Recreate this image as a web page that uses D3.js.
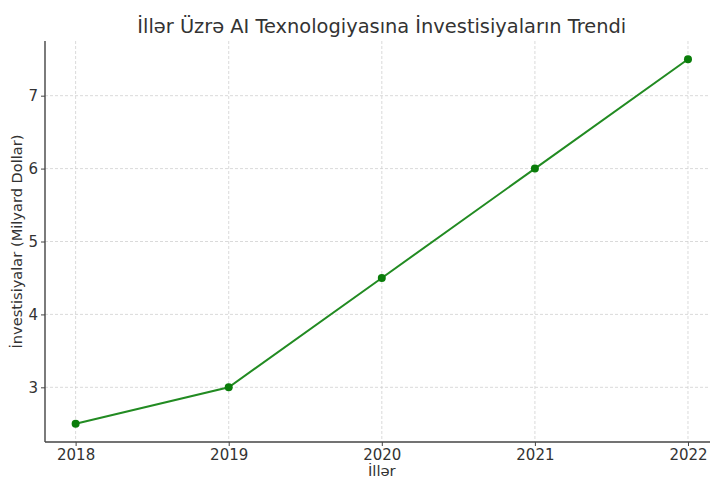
<!DOCTYPE html>
<html>
<head>
<meta charset="utf-8">
<script src="https://cdn.jsdelivr.net/npm/d3@7"></script>
<style>
  body { margin: 0; background: #fff; }
  svg { display: block; font-family: "DejaVu Sans", sans-serif; }
</style>
</head>
<body>
<div id="chart"></div>
<script>
// data
const years = [2018, 2019, 2020, 2021, 2022];
const investments = [2.5, 3.0, 4.5, 6.0, 7.5];
const yTicks = [3, 4, 5, 6, 7];

const width = 710;
const height = 477;
// plot area (right edge runs past the visible window, as in the reference)
const margin = { top: 41, left: 45, bottom: 442, right: 718.6 };

const svg = d3.select("#chart")
  .append("svg")
  .attr("width", width)
  .attr("height", height);

const x = d3.scaleLinear()
  .domain([2017.8, 2022.2])
  .range([margin.left, margin.right]);

const y = d3.scaleLinear()
  .domain([2.25, 7.75])
  .range([margin.bottom, margin.top]);

// grid
svg.append("g")
  .selectAll("line")
  .data(years)
  .join("line")
  .attr("x1", d => x(d)).attr("x2", d => x(d))
  .attr("y1", margin.top).attr("y2", margin.bottom)
  .attr("stroke", "#d0d0d0")
  .attr("stroke-width", 0.8)
  .attr("stroke-dasharray", "3,2");

svg.append("g")
  .selectAll("line")
  .data(yTicks)
  .join("line")
  .attr("x1", margin.left).attr("x2", margin.right)
  .attr("y1", d => y(d)).attr("y2", d => y(d))
  .attr("stroke", "#d0d0d0")
  .attr("stroke-width", 0.8)
  .attr("stroke-dasharray", "3,2");

// axes
const xAxis = svg.append("g")
  .attr("transform", `translate(0,${margin.bottom})`)
  .call(d3.axisBottom(x).tickValues(years).tickFormat(d3.format("d")).tickSize(4).tickPadding(3));

const yAxis = svg.append("g")
  .attr("transform", `translate(${margin.left},0)`)
  .call(d3.axisLeft(y).tickValues(yTicks).tickFormat(d3.format("d")).tickSize(4).tickPadding(3));

[xAxis, yAxis].forEach(g => {
  g.attr("font-family", "DejaVu Sans, sans-serif").attr("font-size", 15);
  g.select(".domain").remove();
  g.selectAll(".tick line").attr("stroke", "#444").attr("stroke-width", 1);
  g.selectAll(".tick text").attr("fill", "#333");
});

// spines (left and bottom)
svg.append("line")
  .attr("x1", margin.left).attr("x2", margin.left)
  .attr("y1", margin.top).attr("y2", margin.bottom)
  .attr("stroke", "#444").attr("stroke-width", 1.4);
svg.append("line")
  .attr("x1", margin.left).attr("x2", margin.right)
  .attr("y1", margin.bottom).attr("y2", margin.bottom)
  .attr("stroke", "#444").attr("stroke-width", 1.4);

// line
const line = d3.line()
  .x((d, i) => x(years[i]))
  .y(d => y(d));

svg.append("path")
  .datum(investments)
  .attr("d", line)
  .attr("fill", "none")
  .attr("stroke", "#228b22")
  .attr("stroke-width", 2);

svg.append("g")
  .selectAll("circle")
  .data(investments)
  .join("circle")
  .attr("cx", (d, i) => x(years[i]))
  .attr("cy", d => y(d))
  .attr("r", 4)
  .attr("fill", "#0a7d0a");

// title and labels
svg.append("text")
  .attr("x", (margin.left + margin.right) / 2)
  .attr("y", 33)
  .attr("text-anchor", "middle")
  .attr("font-size", 19.4)
  .attr("fill", "#333")
  .text("İllər Üzrə AI Texnologiyasına İnvestisiyaların Trendi");

svg.append("text")
  .attr("x", (margin.left + margin.right) / 2)
  .attr("y", 476)
  .attr("text-anchor", "middle")
  .attr("font-size", 14.8)
  .attr("fill", "#333")
  .text("İllər");

svg.append("text")
  .attr("transform", `translate(22,${(margin.top + margin.bottom) / 2}) rotate(-90)`)
  .attr("text-anchor", "middle")
  .attr("font-size", 14.6)
  .attr("fill", "#333")
  .text("İnvestisiyalar (Milyard Dollar)");
</script>
</body>
</html>
